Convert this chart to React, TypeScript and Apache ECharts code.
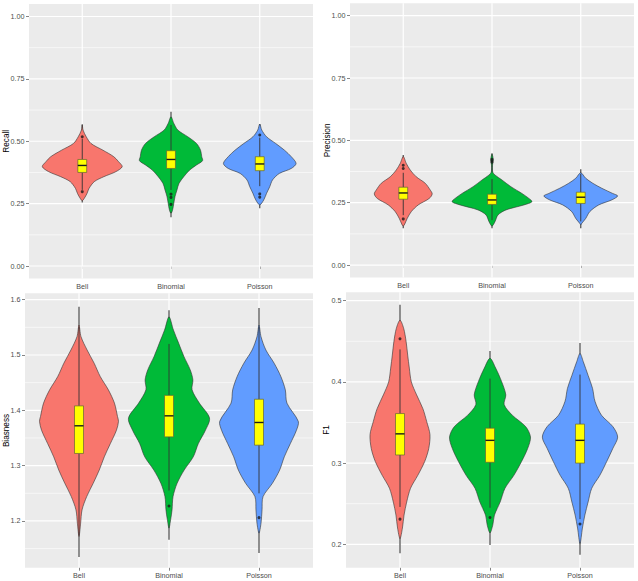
import React, { useEffect, useRef } from 'react';
import * as echarts from 'echarts';

const categories = ['Bell', 'Binomial', 'Poisson'];
const violinColors = ['#F8766D', '#00BA38', '#619CFF'];

// ---- Recall ----
const recallBell = [[0.565,0],[0.545,0.02],[0.518,0.10],[0.491,0.22],[0.464,0.52],[0.438,0.79],[0.418,0.91],[0.398,1.0],[0.378,0.84],[0.358,0.54],[0.338,0.30],[0.311,0.17],[0.291,0.12],[0.271,0.05],[0.262,0]];
const recallBinomial = [[0.598,0],[0.572,0.07],[0.545,0.17],[0.518,0.42],[0.491,0.64],[0.464,0.74],[0.438,0.77],[0.422,0.79],[0.405,0.64],[0.385,0.47],[0.358,0.32],[0.331,0.20],[0.305,0.15],[0.278,0.10],[0.251,0.07],[0.225,0.04],[0.211,0]];
const recallPoisson = [[0.569,0],[0.545,0.05],[0.518,0.17],[0.491,0.40],[0.464,0.62],[0.438,0.79],[0.411,0.91],[0.391,0.79],[0.371,0.49],[0.345,0.32],[0.318,0.25],[0.291,0.17],[0.265,0.10],[0.245,0]];
const recallBoxes = [[0.305,0.375,0.403,0.427,0.51],[0.305,0.391,0.427,0.462,0.565],[0.32,0.382,0.409,0.438,0.515]];
const recallRanges = [[0.255,0.568],[0.195,0.618],[0.232,0.569]];
const recallOutliers = [[1,0.518],[1,0.298],[2,0.288],[2,0.275],[2,0.247],[3,0.525],[3,0.289],[3,0.276]];
const recallMajor = [0, 0.25, 0.5, 0.75, 1.0];
const recallMinor = [0.125, 0.375, 0.625, 0.875];

// ---- Precision ----
const precisionBell = [[0.435,0],[0.408,0.075],[0.381,0.175],[0.354,0.325],[0.328,0.55],[0.301,0.675],[0.285,0.725],[0.267,0.65],[0.241,0.375],[0.214,0.2],[0.187,0.1],[0.160,0.025],[0.157,0]];
const precisionBinomial = [[0.445,0],[0.425,0.03],[0.41,0.02],[0.39,0.008],[0.372,0.02],[0.361,0.075],[0.341,0.25],[0.314,0.475],[0.287,0.75],[0.267,0.925],[0.254,1.0],[0.241,0.8],[0.221,0.35],[0.201,0.15],[0.174,0.075],[0.156,0]];
const precisionPoisson = [[0.37,0],[0.348,0.125],[0.328,0.3],[0.308,0.525],[0.287,0.8],[0.277,0.925],[0.261,0.775],[0.241,0.45],[0.214,0.225],[0.187,0.125],[0.167,0.025],[0.161,0]];
const precisionBoxes = [[0.2,0.264,0.289,0.312,0.37],[0.18,0.243,0.261,0.284,0.345],[0.175,0.247,0.272,0.292,0.365]];
const precisionRanges = [[0.148,0.441],[0.148,0.448],[0.148,0.384]];
const precisionOutliers = [[1,0.40],[1,0.387],[1,0.185],[2,0.424],[2,0.418],[2,0.412]];
const precisionMajor = [0, 0.25, 0.5, 0.75, 1.0];
const precisionMinor = [0.125, 0.375, 0.625, 0.875];

// ---- Biasness ----
const biasBell = [[1.554,0],[1.533,0.05],[1.509,0.2],[1.485,0.375],[1.461,0.525],[1.437,0.725],[1.413,0.875],[1.389,0.95],[1.380,0.975],[1.364,0.925],[1.340,0.775],[1.316,0.625],[1.292,0.5],[1.268,0.35],[1.244,0.19],[1.220,0.075],[1.196,0.04],[1.172,0]];
const biasBinomial = [[1.569,0],[1.545,0.11],[1.521,0.24],[1.497,0.37],[1.473,0.525],[1.455,0.59],[1.437,0.57],[1.413,0.75],[1.386,1.0],[1.364,0.9],[1.340,0.725],[1.316,0.6],[1.292,0.375],[1.268,0.2],[1.244,0.1],[1.220,0.075],[1.202,0.04],[1.187,0]];
const biasPoisson = [[1.554,0],[1.533,0.05],[1.509,0.17],[1.485,0.375],[1.461,0.54],[1.437,0.65],[1.413,0.69],[1.380,0.97],[1.364,0.925],[1.340,0.775],[1.316,0.625],[1.292,0.51],[1.268,0.33],[1.244,0.1],[1.220,0.075],[1.196,0.05],[1.178,0]];
const biasBoxes = [[1.175,1.322,1.372,1.408,1.55],[1.255,1.352,1.390,1.427,1.52],[1.25,1.337,1.378,1.420,1.55]];
const biasRanges = [[1.135,1.587],[1.166,1.581],[1.142,1.585]];
const biasOutliers = [[2,1.227],[3,1.206]];
const biasMajor = [1.2, 1.3, 1.4, 1.5, 1.6];
const biasMinor = [1.15, 1.25, 1.35, 1.45, 1.55];

// ---- F1 ----
const f1Bell = [[0.476,0],[0.466,0.09],[0.450,0.15],[0.433,0.19],[0.417,0.23],[0.400,0.28],[0.384,0.41],[0.367,0.565],[0.351,0.66],[0.335,0.74],[0.318,0.71],[0.302,0.61],[0.285,0.44],[0.269,0.26],[0.252,0.165],[0.236,0.1],[0.220,0.06],[0.207,0]];
const f1Binomial = [[0.429,0],[0.417,0.14],[0.400,0.29],[0.384,0.39],[0.372,0.35],[0.359,0.55],[0.345,0.88],[0.332,1.0],[0.318,0.93],[0.302,0.78],[0.285,0.59],[0.269,0.37],[0.252,0.25],[0.236,0.11],[0.224,0.07],[0.214,0]];
const f1Poisson = [[0.435,0],[0.425,0.08],[0.408,0.2],[0.392,0.31],[0.376,0.37],[0.359,0.53],[0.345,0.81],[0.332,0.93],[0.318,0.81],[0.302,0.66],[0.285,0.49],[0.269,0.29],[0.252,0.2],[0.236,0.12],[0.220,0.06],[0.201,0]];
const f1Boxes = [[0.246,0.310,0.336,0.361,0.44],[0.245,0.301,0.328,0.343,0.404],[0.231,0.300,0.328,0.348,0.409]];
const f1Ranges = [[0.189,0.495],[0.199,0.438],[0.187,0.448]];
const f1Outliers = [[1,0.453],[1,0.231],[2,0.233],[3,0.225]];
const f1Major = [0.2, 0.3, 0.4, 0.5];
const f1Minor = [0.25, 0.35, 0.45];

const FONT = 'Liberation Sans, Arial, Helvetica, sans-serif';
const HALF = 0.45;
const BOX_HALF = 0.05;

type Panel = {
  violins: number[][][];
  boxes: number[][];
  ranges: number[][];
  outliers: number[][];
  major: number[];
  minor: number[];
  min: number;
  max: number;
  digits: number;
  grid: { left: number; top: number; width: number; height: number };
  title: string;
  titleX: number;
};

const panels: Panel[] = [
  { violins: [recallBell, recallBinomial, recallPoisson], boxes: recallBoxes, ranges: recallRanges, outliers: recallOutliers, major: recallMajor, minor: recallMinor, min: -0.05, max: 1.05, digits: 2, grid: { left: 29, top: 4, width: 284, height: 274.5 }, title: 'Recall', titleX: 6 },
  { violins: [precisionBell, precisionBinomial, precisionPoisson], boxes: precisionBoxes, ranges: precisionRanges, outliers: precisionOutliers, major: precisionMajor, minor: precisionMinor, min: -0.05, max: 1.05, digits: 2, grid: { left: 350, top: 3.2, width: 284, height: 274.3 }, title: 'Precision', titleX: 327 },
  { violins: [biasBell, biasBinomial, biasPoisson], boxes: biasBoxes, ranges: biasRanges, outliers: biasOutliers, major: biasMajor, minor: biasMinor, min: 1.1155, max: 1.6115, digits: 1, grid: { left: 25, top: 293.3, width: 288, height: 274.4 }, title: 'Biasness', titleX: 6 },
  { violins: [f1Bell, f1Binomial, f1Poisson], boxes: f1Boxes, ranges: f1Ranges, outliers: f1Outliers, major: f1Major, minor: f1Minor, min: 0.1712, max: 0.5103, digits: 1, grid: { left: 346, top: 292.3, width: 288, height: 275.4 }, title: 'F1', titleX: 326 },
];

function buildOption() {
  const grids: any[] = [];
  const xAxes: any[] = [];
  const yAxes: any[] = [];
  const series: any[] = [];
  const graphics: any[] = [];

  panels.forEach((p, idx) => {
    grids.push({ ...p.grid, show: true, backgroundColor: '#EBEBEB', borderWidth: 0, containLabel: false });
    xAxes.push({
      type: 'value', gridIndex: idx, min: 0.4, max: 3.6,
      axisLine: { show: false }, splitLine: { show: false },
      axisTick: { show: true, customValues: [1, 2, 3], length: 3, lineStyle: { color: '#666', width: 0.8 } },
      axisLabel: { show: true, customValues: [1, 2, 3], margin: 4, fontSize: 7.2, color: '#4D4D4D', fontFamily: FONT, formatter: (v: number) => categories[Math.round(v) - 1] ?? '' },
    });
    yAxes.push({
      type: 'value', gridIndex: idx, min: p.min, max: p.max,
      axisLine: { show: false }, splitLine: { show: false },
      axisTick: { show: true, customValues: p.major, length: 3, lineStyle: { color: '#666', width: 0.8 } },
      axisLabel: { show: true, customValues: p.major, margin: 4.5, fontSize: 7.2, color: '#4D4D4D', fontFamily: FONT, formatter: (v: number) => v.toFixed(p.digits) },
    });
    const mid = (p.min + p.max) / 2;
    series.push({
      type: 'custom', xAxisIndex: idx, yAxisIndex: idx, silent: true, z: 1,
      data: p.minor.map((v) => [2, v]),
      renderItem: (params: any, api: any) => {
        const cs = params.coordSys;
        const y = api.coord([2, api.value(1)])[1];
        return { type: 'line', shape: { x1: cs.x, y1: y, x2: cs.x + cs.width, y2: y }, style: { stroke: '#FFFFFF', lineWidth: 0.6 } };
      },
    });
    series.push({
      type: 'custom', xAxisIndex: idx, yAxisIndex: idx, silent: true, z: 1,
      data: p.major.map((v) => [2, v]),
      renderItem: (params: any, api: any) => {
        const cs = params.coordSys;
        const y = api.coord([2, api.value(1)])[1];
        return { type: 'line', shape: { x1: cs.x, y1: y, x2: cs.x + cs.width, y2: y }, style: { stroke: '#FFFFFF', lineWidth: 1.2 } };
      },
    });
    series.push({
      type: 'custom', xAxisIndex: idx, yAxisIndex: idx, silent: true, z: 1,
      data: categories.map((_, i) => [i + 1, mid]),
      renderItem: (params: any, api: any) => {
        const cs = params.coordSys;
        const x = api.coord([api.value(0), mid])[0];
        return { type: 'line', shape: { x1: x, y1: cs.y, x2: x, y2: cs.y + cs.height }, style: { stroke: '#FFFFFF', lineWidth: 1.2 } };
      },
    });
    series.push({
      type: 'custom', xAxisIndex: idx, yAxisIndex: idx, silent: true, z: 2,
      data: p.ranges.map((r, i) => [i + 1, r[0], r[1]]),
      renderItem: (params: any, api: any) => {
        const c = api.value(0);
        const a = api.coord([c, api.value(1)]);
        const b = api.coord([c, api.value(2)]);
        return { type: 'line', shape: { x1: a[0], y1: a[1], x2: b[0], y2: b[1] }, style: { stroke: '#555555', lineWidth: 1.3 } };
      },
    });
    series.push({
      type: 'custom', xAxisIndex: idx, yAxisIndex: idx, silent: true, z: 3,
      data: p.boxes.map((b, i) => [i + 1, b[2]]),
      renderItem: (params: any, api: any) => {
        const i = params.dataIndex;
        const prof = p.violins[i];
        const cat = i + 1;
        const right = prof.map(([v, d]) => api.coord([cat + d * HALF, v]));
        const left = prof.slice(1, -1).reverse().map(([v, d]) => api.coord([cat - d * HALF, v]));
        return {
          type: 'polygon',
          shape: { points: right.concat(left), smooth: 0.3 },
          style: { fill: violinColors[i], stroke: '#333333', lineWidth: 0.6 },
        };
      },
    });
    series.push({
      type: 'custom', xAxisIndex: idx, yAxisIndex: idx, silent: true, z: 4,
      data: p.boxes.map((b, i) => [i + 1, ...b]),
      renderItem: (params: any, api: any) => {
        const c = api.value(0);
        const wl = api.coord([c, api.value(1)]);
        const q1 = api.coord([c, api.value(2)]);
        const md = api.coord([c, api.value(3)]);
        const q3 = api.coord([c, api.value(4)]);
        const wh = api.coord([c, api.value(5)]);
        const xl = api.coord([c - BOX_HALF, api.value(3)])[0];
        const xr = api.coord([c + BOX_HALF, api.value(3)])[0];
        return {
          type: 'group',
          children: [
            { type: 'line', shape: { x1: wl[0], y1: wl[1], x2: q1[0], y2: q1[1] }, style: { stroke: '#333333', lineWidth: 0.9 } },
            { type: 'line', shape: { x1: q3[0], y1: q3[1], x2: wh[0], y2: wh[1] }, style: { stroke: '#333333', lineWidth: 0.9 } },
            { type: 'rect', shape: { x: xl, y: q3[1], width: xr - xl, height: q1[1] - q3[1] }, style: { fill: '#FFFF00', stroke: '#666633', lineWidth: 0.7 } },
            { type: 'line', shape: { x1: xl, y1: md[1], x2: xr, y2: md[1] }, style: { stroke: '#1a1a1a', lineWidth: 1.4 } },
          ],
        };
      },
    });
    series.push({
      type: 'scatter', xAxisIndex: idx, yAxisIndex: idx, silent: true, z: 5,
      data: p.outliers,
      symbol: 'circle', symbolSize: 3,
      itemStyle: { color: '#1a1a1a' },
    });
    const cy = p.grid.top + p.grid.height / 2;
    graphics.push({
      type: 'text', x: p.titleX, y: cy, rotation: Math.PI / 2,
      style: { text: p.title, fontSize: 8.2, fontFamily: FONT, fill: '#000000', align: 'center', verticalAlign: 'middle' },
    });
  });

  return {
    animation: false,
    backgroundColor: '#FFFFFF',
    grid: grids,
    xAxis: xAxes,
    yAxis: yAxes,
    series,
    graphic: graphics,
  };
}

export default function App() {
  const ref = useRef<HTMLDivElement>(null);
  useEffect(() => {
    if (!ref.current) return;
    const chart = echarts.init(ref.current, undefined, { renderer: 'svg' });
    chart.setOption(buildOption());
    return () => chart.dispose();
  }, []);
  return <div ref={ref} style={{ position: 'fixed', left: 0, top: 0, width: 638, height: 581 }} />;
}
